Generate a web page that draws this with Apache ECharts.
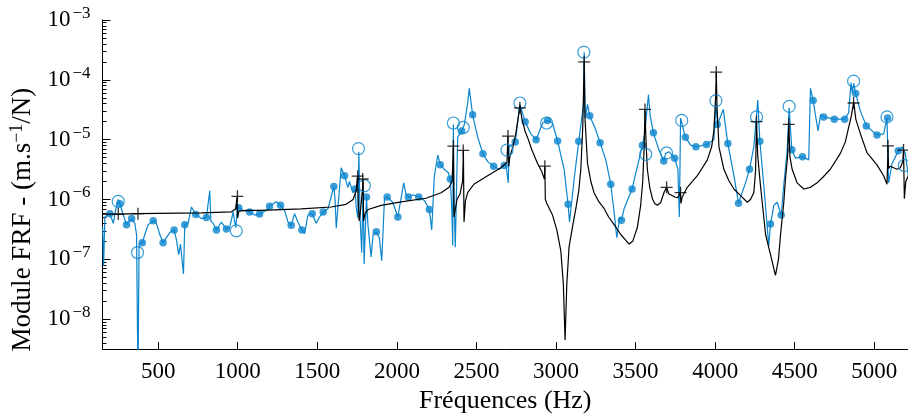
<!DOCTYPE html>
<html>
<head>
<meta charset="utf-8">
<script src="https://cdn.jsdelivr.net/npm/echarts@6/dist/echarts.min.js"></script>
<style>
html,body{margin:0;padding:0;background:#fff;}
#chart{width:908px;height:419px;}
</style>
</head>
<body>
<div id="chart"></div>
<script>
// ---- Data (frequency in Hz, FRF module in m.s^-1/N) ----
const xTicks = [500, 1000, 1500, 2000, 2500, 3000, 3500, 4000, 4500, 5000];
const yTicks = [1e-8, 1e-7, 1e-6, 1e-5, 1e-4, 1e-3];
const yTickExponents = ['-8', '-7', '-6', '-5', '-4', '-3'];

// analytical FRF (black line)
const blackCurve = [
[151,5.7e-7],[249,5.7e-7],[373,5.8e-7],[772,6.0e-7],[960,6.2e-7],[988,7.1e-7],[995,1.1e-6],[999,4.9e-7],[1007,6.4e-7],
[1054,6.6e-7],[1148,6.6e-7],[1399,7.0e-7],[1587,7.5e-7],[1681,8.3e-7],[1725,1.0e-6],[1744,1.4e-6],[1753,2.5e-6],
[1757,9.6e-7],[1763,4.4e-7],[1772,6.8e-7],[1783,1.4e-6],[1788,2.2e-6],[1791,4.4e-7],[1801,5.9e-7],[1819,6.8e-7],
[1901,8.0e-7],[2027,9.1e-7],[2183,1.05e-6],[2278,1.3e-6],[2328,1.6e-6],[2347,2.0e-6],[2355,7.6e-6],[2359,5.1e-7],
[2378,1.0e-6],[2397,1.25e-6],[2413,2.0e-6],[2418,6.5e-6],[2422,4.2e-7],[2431,9.6e-7],[2445,1.3e-6],[2484,1.8e-6],
[2570,2.5e-6],[2654,3.4e-6],[2692,4.2e-6],[2698,1.15e-5],[2703,3.6e-6],[2710,5.2e-6],[2729,7.6e-6],[2748,1.3e-5],
[2764,2.5e-5],[2773,3.7e-5],[2786,2.2e-5],[2805,1.4e-5],[2823,1.06e-5],[2848,6.8e-6],[2884,4.0e-6],[2911,2.9e-6],
[2927,2.2e-6],[2930,3.6e-6],[2933,1.0e-6],[2943,8.5e-7],[2978,5.5e-7],[3005,3.1e-7],[3030,1.4e-7],[3046,3.9e-8],
[3057,4.5e-9],[3068,3.9e-8],[3082,1.6e-7],[3106,3.8e-7],[3125,7.1e-7],[3143,1.4e-6],[3156,3.2e-6],[3168,1.6e-5],
[3177,2.0e-4],[3182,2.3e-5],[3198,4.0e-6],[3219,2.0e-6],[3239,1.3e-6],[3269,9.2e-7],[3302,7.1e-7],[3331,5.1e-7],
[3365,3.8e-7],[3407,2.6e-7],[3438,2.1e-7],[3459,1.8e-7],[3482,2.0e-7],[3511,3.4e-7],[3532,8.0e-7],[3545,2.0e-6],
[3554,7.6e-6],[3559,3.2e-5],[3567,7.6e-6],[3574,3.2e-6],[3589,1.6e-6],[3606,1.03e-6],[3620,8.6e-7],[3637,8.0e-7],
[3658,8.9e-7],[3678,1.3e-6],[3695,1.6e-6],[3708,1.25e-6],[3720,1.16e-6],[3746,1.1e-6],[3764,1.07e-6],[3781,1.3e-6],
[3785,8.6e-7],[3793,1.1e-6],[3825,1.6e-6],[3888,2.5e-6],[3951,4.6e-6],[3978,7.6e-6],[3992,1.4e-5],[4003,5.0e-5],
[4007,1.37e-4],[4012,3.4e-5],[4024,7.6e-6],[4055,3.2e-6],[4085,2.1e-6],[4118,1.5e-6],[4160,1.16e-6],[4202,9.0e-7],
[4222,1.0e-6],[4243,1.3e-6],[4254,3.0e-6],[4260,2.0e-5],[4268,5.2e-6],[4285,1.7e-6],[4317,2.6e-7],[4348,1.2e-7],
[4379,5.4e-8],[4398,1.0e-7],[4411,2.6e-7],[4430,8.0e-7],[4442,2.2e-6],[4455,5.2e-6],[4463,1.9e-5],[4470,5.2e-6],
[4484,3.2e-6],[4515,1.9e-6],[4557,1.5e-6],[4599,1.6e-6],[4641,1.9e-6],[4680,2.4e-6],[4724,3.2e-6],[4787,5.9e-6],
[4818,9.1e-6],[4839,1.6e-5],[4856,2.5e-5],[4871,4.3e-5],[4884,2.2e-5],[4913,1.25e-5],[4955,6.0e-6],[5017,3.8e-6],
[5059,2.5e-6],[5080,1.8e-6],[5085,5.2e-6],[5086,7.9e-6],[5090,3.3e-6],[5101,3.6e-6],[5143,3.2e-6],[5164,3.4e-6],
[5179,4.3e-6],[5184,6.7e-6],[5189,1.03e-6],[5198,2.0e-6],[5214,2.5e-6]
];

// measured FRF (blue line)
const blueCurve = [
[151,3.5e-7],[157,7.7e-8],[165,5.1e-7],[196,5.8e-7],[218,4.0e-7],[232,6.6e-7],[249,1.0e-6],[259,8.5e-7],[281,5.5e-7],
[301,3.8e-7],[333,4.8e-7],[353,4.0e-7],[364,2.6e-7],[373,1.0e-9],[380,1.8e-7],[400,1.9e-7],[416,2.6e-7],[437,3.8e-7],
[469,4.4e-7],[489,4.0e-7],[510,2.6e-7],[531,1.9e-7],[552,2.3e-7],[573,2.8e-7],[600,3.1e-7],[615,2.1e-7],[629,1.2e-7],
[640,1.8e-7],[659,5.7e-8],[667,3.8e-7],[688,4.0e-7],[709,7.5e-7],[736,5.6e-7],[772,4.8e-7],[803,5.0e-7],[824,1.4e-6],
[831,4.4e-7],[845,4.0e-7],[866,3.1e-7],[897,4.2e-7],[929,3.2e-7],[949,3.4e-7],[971,6.2e-7],[981,4.2e-7],[988,3.4e-7],
[999,8.3e-7],[1006,7.3e-7],[1033,6.6e-7],[1075,6.2e-7],[1106,5.5e-7],[1137,5.7e-7],[1180,6.6e-7],[1200,7.7e-7],
[1242,9.2e-7],[1269,8.0e-7],[1294,6.6e-7],[1316,4.2e-7],[1336,3.7e-7],[1357,5.8e-7],[1378,4.2e-7],[1403,3.1e-7],
[1420,2.7e-7],[1441,5.5e-7],[1468,5.8e-7],[1493,4.0e-7],[1514,5.1e-7],[1537,6.2e-7],[1567,7.0e-7],[1604,1.65e-6],
[1612,9.6e-7],[1619,3.3e-7],[1650,3.4e-6],[1671,2.5e-6],[1692,1.6e-6],[1702,2.0e-6],[1723,1.3e-6],[1738,1.5e-6],
[1744,7.5e-7],[1755,4.9e-7],[1761,6.3e-6],[1769,4.9e-7],[1779,1.3e-7],[1788,1.7e-6],[1794,8.4e-8],[1809,1.1e-6],
[1818,3.8e-7],[1838,1.1e-7],[1851,2.6e-7],[1871,2.9e-7],[1890,2.3e-7],[1905,9.5e-8],[1922,1.03e-6],[1939,1.1e-6],
[1974,9.0e-7],[2006,5.1e-7],[2022,9.0e-7],[2043,1.9e-6],[2058,1.2e-6],[2072,1.1e-6],[2100,1.2e-6],[2137,1.1e-6],
[2173,9.6e-7],[2204,6.8e-7],[2219,3.1e-7],[2235,2.4e-6],[2257,5.5e-6],[2273,3.8e-6],[2298,3.2e-6],[2323,2.8e-6],
[2336,2.2e-6],[2345,7.1e-7],[2351,1.7e-7],[2355,1.8e-5],[2359,1.2e-6],[2367,1.6e-7],[2382,1.1e-5],[2407,1.4e-5],
[2424,1.8e-5],[2445,4.1e-5],[2455,7.2e-5],[2476,2.6e-5],[2508,1.1e-5],[2541,5.8e-6],[2571,4.3e-6],[2608,3.6e-6],
[2643,3.2e-6],[2675,3.7e-6],[2685,4.0e-6],[2700,1.9e-6],[2706,7.6e-6],[2744,9.1e-6],[2773,3.9e-5],[2806,2.0e-5],
[2842,1.25e-5],[2875,1.0e-5],[2916,1.9e-5],[2947,2.1e-5],[2978,1.9e-5],[3010,9.5e-6],[3051,3.2e-6],[3076,8.3e-7],
[3085,4.2e-7],[3114,2.2e-6],[3143,9.4e-6],[3173,3.9e-5],[3177,2.9e-4],[3184,2.3e-5],[3198,3.9e-5],[3212,2.5e-5],
[3244,1.6e-5],[3277,8.9e-6],[3313,4.6e-6],[3344,1.8e-6],[3365,6.2e-7],[3382,2.3e-7],[3401,5.1e-7],[3411,4.5e-7],
[3428,7.0e-7],[3478,1.5e-6],[3512,3.6e-6],[3543,8.1e-6],[3557,1.25e-5],[3581,5.6e-5],[3591,2.6e-5],[3612,1.3e-5],
[3647,6.7e-6],[3677,4.4e-6],[3689,5.9e-6],[3710,6.3e-6],[3746,4.9e-6],[3766,3.2e-6],[3775,5.1e-7],[3783,2.3e-5],
[3813,1.1e-5],[3846,8.1e-6],[3879,7.6e-6],[3946,8.3e-6],[3992,1.0e-5],[4005,4.1e-5],[4015,1.8e-5],[4051,3.2e-5],
[4080,8.6e-6],[4118,2.5e-6],[4147,8.7e-7],[4191,1.9e-6],[4216,3.2e-6],[4243,7.6e-6],[4260,2.5e-5],[4268,4.6e-5],
[4281,9.4e-6],[4306,1.7e-6],[4337,1.7e-7],[4348,3.9e-7],[4369,8.0e-7],[4390,9.0e-7],[4415,5.5e-7],[4431,1.7e-6],
[4453,6.7e-6],[4465,3.4e-5],[4482,6.8e-6],[4505,4.9e-6],[4549,5.2e-6],[4588,4.6e-6],[4599,7.2e-5],[4616,4.5e-5],
[4630,2.6e-5],[4647,1.4e-5],[4662,2.6e-5],[4682,2.4e-5],[4749,2.2e-5],[4814,2.2e-5],[4839,2.8e-5],[4854,9.0e-5],
[4862,6.0e-5],[4871,8.7e-5],[4883,5.9e-5],[4913,3.0e-5],[4950,1.7e-5],[5017,1.2e-5],[5059,1.25e-5],[5080,2.3e-5],
[5084,2.3e-5],[5090,1.9e-6],[5112,4.0e-6],[5151,6.5e-6],[5174,7.6e-6],[5195,5.9e-6],[5214,2.5e-6]
];

// measured points (filled blue dots)
const measuredDots = [
[196,5.8e-7],[259,8.5e-7],[301,3.8e-7],[333,4.8e-7],[400,1.9e-7],[469,4.4e-7],[531,1.9e-7],[600,3.1e-7],[667,3.8e-7],
[736,5.6e-7],[803,5.0e-7],[866,3.1e-7],[929,3.2e-7],[1006,7.3e-7],[1075,6.2e-7],[1137,5.7e-7],[1200,7.7e-7],
[1269,8.0e-7],[1336,3.7e-7],[1403,3.1e-7],[1468,5.8e-7],[1537,6.2e-7],[1604,1.65e-6],[1671,2.5e-6],[1738,1.5e-6],
[1809,1.1e-6],[1871,2.9e-7],[1939,1.1e-6],[2006,5.1e-7],[2072,1.1e-6],[2137,1.1e-6],[2204,6.8e-7],[2273,3.8e-6],
[2336,2.2e-6],[2407,1.4e-5],[2476,2.6e-5],[2541,5.8e-6],[2608,3.6e-6],[2675,3.7e-6],[2744,9.1e-6],[2806,2.0e-5],
[2875,1.0e-5],[2947,2.1e-5],[3010,9.5e-6],[3076,8.3e-7],[3143,9.4e-6],[3212,2.5e-5],[3277,8.9e-6],[3344,1.8e-6],
[3411,4.5e-7],[3478,1.5e-6],[3543,8.1e-6],[3612,1.3e-5],[3677,4.4e-6],[3746,4.9e-6],[3813,1.1e-5],[3879,7.6e-6],
[3946,8.3e-6],[4013,1.8e-5],[4080,8.6e-6],[4147,8.7e-7],[4216,3.2e-6],[4281,9.4e-6],[4348,3.9e-7],[4415,5.5e-7],
[4482,6.8e-6],[4549,5.2e-6],[4616,4.5e-5],[4682,2.4e-5],[4749,2.2e-5],[4814,2.2e-5],[4883,5.9e-5],[4950,1.7e-5],
[5017,1.2e-5],[5084,2.3e-5],[5151,6.5e-6]
];

// measured resonance peaks (open blue circles)
const measuredPeaks = [
[249,9.3e-7],[370,1.3e-7],[991,3.0e-7],[1759,7.1e-6],[1796,1.7e-6],[2355,1.9e-5],[2417,1.6e-5],[2692,6.7e-6],
[2773,4.1e-5],[2941,1.9e-5],[3175,2.9e-4],[3564,5.7e-6],[3695,6.0e-6],[3790,2.1e-5],[4005,4.5e-5],[4260,2.4e-5],
[4465,3.6e-5],[4870,9.5e-5],[5080,2.4e-5],[5189,3.7e-6]
];

// model resonance peaks (black plus signs)
const modelPeaks = [
[249,5.7e-7],[373,5.8e-7],[998,1.13e-6],[1754,2.45e-6],[1785,2.2e-6],[2355,7.8e-6],[2417,6.6e-6],[2698,1.15e-5],
[2773,3.4e-5],[2930,3.6e-6],[3177,2.0e-4],[3559,3.2e-5],[3695,1.6e-6],[3783,1.3e-6],[4007,1.35e-4],[4260,2.0e-5],
[4463,1.8e-5],[4870,4.1e-5],[5086,7.9e-6],[5184,6.7e-6]
];

// ---- chart ----
const BLUE = '#0a85cd';
const FONT = 'Liberation Serif';
const minorTicks = [];
for (let e = -9; e <= -4; e++) {
  for (let k = 2; k <= 9; k++) {
    const v = k * Math.pow(10, e);
    if (v > 3.17e-9 && v < 1e-3) minorTicks.push(v);
  }
}
const YMIN = 3.1623e-9, YMAX = 1e-3, XMIN = 150, XMAX = 5212;

const chart = echarts.init(document.getElementById('chart'), null, {renderer: 'canvas'});
chart.setOption({
  animation: false,
  backgroundColor: '#fff',
  grid: {left: 101, right: 0, top: 20, bottom: 61, containLabel: false},
  textStyle: {fontFamily: FONT},
  xAxis: {
    type: 'value', min: XMIN, max: XMAX,
    name: 'Fréquences (Hz)', nameLocation: 'middle', nameGap: 29,
    nameTextStyle: {fontFamily: FONT, fontSize: 26, color: '#000'},
    axisLine: {show: true, lineStyle: {color: '#000', width: 1}},
    axisTick: {show: true, inside: true, length: 7, lineStyle: {color: '#000'}, customValues: xTicks},
    axisLabel: {show: true, margin: 11, fontFamily: FONT, fontSize: 23, color: '#000', customValues: xTicks,
      formatter: v => String(v)},
    splitLine: {show: false}
  },
  yAxis: [{
    type: 'log', logBase: 10, min: YMIN, max: YMAX,
    name: '{t|Module FRF - (m.s}{s|−1}{t|/N)}', nameLocation: 'middle', nameGap: 64, nameRotate: 90,
    nameTextStyle: {color: '#000', padding: [0, 70, 0, 0], rich: {
      t: {fontFamily: FONT, fontSize: 27, lineHeight: 30, verticalAlign: 'middle', color: '#000'},
      s: {fontFamily: FONT, fontSize: 18, lineHeight: 12, verticalAlign: 'top', color: '#000'}
    }},
    axisLine: {show: true, onZero: false, lineStyle: {color: '#000', width: 1}},
    axisTick: {show: true, inside: true, length: 8, lineStyle: {color: '#000'}, customValues: yTicks},
    axisLabel: {show: true, margin: 12, customValues: yTicks,
      formatter: v => {
        const i = yTicks.findIndex(t => Math.abs(Math.log10(t) - Math.log10(v)) < 0.01);
        return '{b|10}{s|−' + yTickExponents[i].replace('-', '') + '}';
      },
      rich: {
        b: {fontFamily: FONT, fontSize: 23, lineHeight: 30, verticalAlign: 'middle', color: '#000'},
        s: {fontFamily: FONT, fontSize: 17, lineHeight: 12, verticalAlign: 'top', color: '#000', padding: [0, 0, 0, 2]}
      }
    },
    splitLine: {show: false}
  }, {
    type: 'log', logBase: 10, min: YMIN, max: YMAX, position: 'left', offset: 0,
    axisLine: {show: false},
    axisTick: {show: true, inside: true, length: 4, lineStyle: {color: '#000'}, customValues: minorTicks},
    axisLabel: {show: false},
    splitLine: {show: false}
  }],
  series: [
    {type: 'line', data: blueCurve, showSymbol: false, symbol: 'none', clip: true,
     lineStyle: {color: BLUE, width: 1.2}, z: 2},
    {type: 'scatter', data: measuredDots, symbol: 'circle', symbolSize: 7.5,
     itemStyle: {color: BLUE}, z: 3},
    {type: 'line', data: blackCurve, showSymbol: false, symbol: 'none', clip: true,
     lineStyle: {color: '#000', width: 1.2}, z: 4},
    {type: 'scatter', data: measuredPeaks, symbol: 'circle', symbolSize: 12,
     itemStyle: {color: 'rgba(0,0,0,0)', borderColor: BLUE, borderWidth: 1.2}, z: 5},
    {type: 'scatter', data: modelPeaks, symbol: 'path://M5,0L5,10M0,5L10,5', symbolSize: 12,
     itemStyle: {color: 'rgba(0,0,0,0)', borderColor: '#000', borderWidth: 1.3}, z: 6}
  ]
});
</script>
</body>
</html>
